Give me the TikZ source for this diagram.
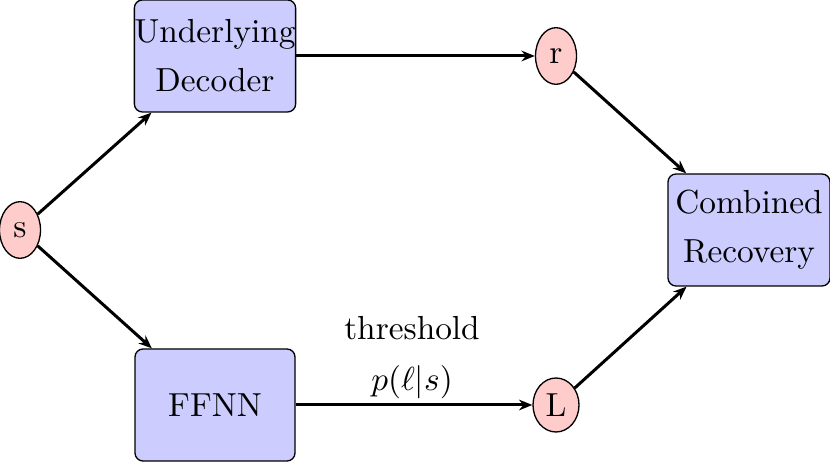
\documentclass[tikz,border=0pt]{standalone}
\usetikzlibrary{shapes.geometric,arrows.meta}
\tikzset{every picture/.style={line width=0.4pt}}
\tikzset{
  procbox/.style={draw,rounded corners=2.4pt,fill=blue!20,minimum width=48pt,minimum height=33.6pt,align=center,inner sep=0pt},
  statenode/.style={draw,ellipse,fill=red!20,minimum width=12.3pt,minimum height=17pt,inner sep=0pt},
  flow/.style={line width=0.9pt,-{Stealth[length=4pt,width=3.2pt]}}
}
\begin{document}
\begin{tikzpicture}[x=0.3pt,y=0.3pt,yscale=-1,xscale=1]
	\useasboundingbox (0,0) rectangle (830,462);
	
	% states
	\node [statenode] (s) at (20,230) {s};
	\node [statenode] (r) at (556,56) {r};
	\node [statenode,minimum width=13.8pt,minimum height=16.2pt] (L) at (556,405) {L};
	% boxes
	\node [procbox] (dec) at (215,56) {Underlying\\[2.7pt]Decoder};
	\node [procbox] (ffnn) at (215,405) {FFNN};
	\node [procbox,minimum width=48.6pt] (comb) at (749,230) {Combined\\[2.7pt]Recovery};
	
	% connectors
	\draw [flow] (s) -- (dec);
	\draw [flow] (s) -- (ffnn);
	\draw [flow] (dec) -- (r);
	\draw [flow] (ffnn) -- (L);
	\draw [flow] (r) -- (comb);
	\draw [flow] (L) -- (comb);
	
	% labels
	\node (thr) at (412,328) {threshold};
	\node (prob) at (412,382) {$p(\ell|s)$};
\end{tikzpicture}
\end{document}
